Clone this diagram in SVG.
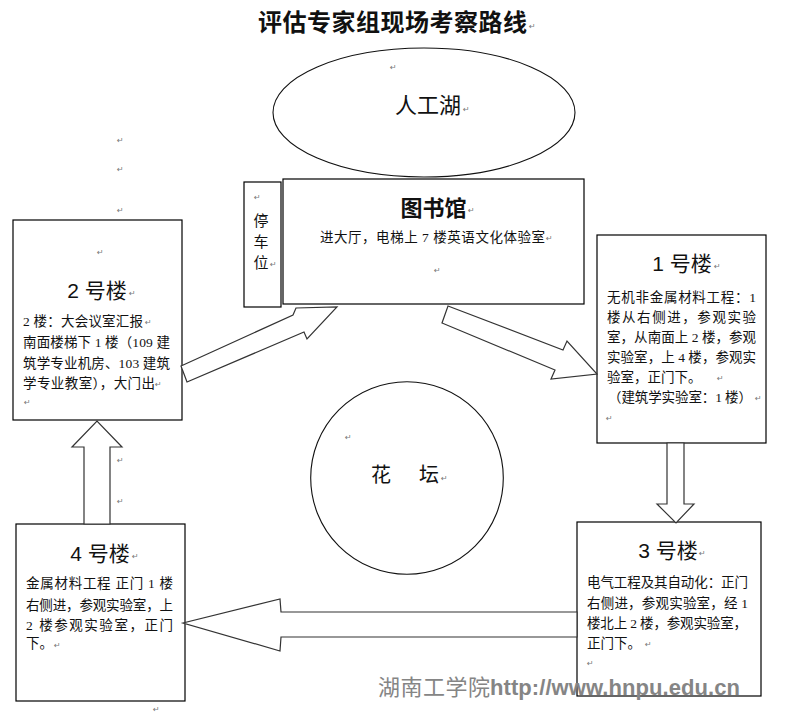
<svg xmlns="http://www.w3.org/2000/svg" width="790" height="717" viewBox="0 0 790 717">
<style>
.box{fill:#fff;stroke:#000;stroke-width:1.2}
.shape{fill:none;stroke:#111;stroke-width:1.1}
.arrow{fill:#fff;stroke:#333;stroke-width:1.2;stroke-linejoin:miter}
.ttl{font-family:"Noto Sans CJK SC",sans-serif;font-size:24px;font-weight:700;fill:#111}
.hd{font-family:"Liberation Sans","Noto Sans CJK SC",sans-serif;font-size:21px;fill:#111}
.bd{font-family:"Liberation Serif","Noto Sans CJK SC",serif;font-size:13.5px;fill:#111}
.pm{font-family:"DejaVu Sans",sans-serif;font-size:8px;fill:#777}
.wmc{font-family:"Noto Sans CJK SC",sans-serif;font-size:22px;fill:#858585}
.wml{font-family:"Liberation Sans",sans-serif;font-size:22px;font-weight:700;fill:#858585}
</style>
<rect width="790" height="717" fill="#fff"/>

<g id="title">
<text class="ttl" x="258" y="31" textLength="269">评估专家组现场考察路线</text>
<text class="pm" x="529" y="29">↵</text>
</g>

<g id="marks">
<text class="pm" x="117" y="143">↵</text>
<text class="pm" x="117" y="172">↵</text>
<text class="pm" x="117" y="213">↵</text>
<text class="pm" x="117" y="463">↵</text>
<text class="pm" x="117" y="504">↵</text>
<text class="pm" x="153" y="712">↵</text>
</g>

<g id="lake">
<ellipse class="shape" cx="424" cy="112.5" rx="151" ry="64.5"/>
<text class="pm" x="390" y="70">↵</text>
<text class="hd" x="395" y="113" style="font-size:22px">人工湖</text>
<text class="pm" x="463" y="112">↵</text>
</g>

<g id="parking">
<rect class="box" x="244" y="182" width="37" height="125"/>
<text class="pm" x="254" y="200">↵</text>
<text class="hd" x="261" y="226" style="font-size:15px" text-anchor="middle">停</text>
<text class="hd" x="261" y="247" style="font-size:15px" text-anchor="middle">车</text>
<text class="hd" x="261" y="268" style="font-size:15px" text-anchor="middle">位</text>
<text class="pm" x="270" y="267">↵</text>
</g>

<g id="library">
<rect class="box" x="283" y="179" width="301" height="125"/>
<text class="hd" x="433.5" y="216" style="font-size:22px;font-weight:700" text-anchor="middle">图书馆</text>
<text class="pm" x="468" y="213">↵</text>
<text class="bd" x="320" y="242" textLength="225">进大厅，电梯上 7 楼英语文化体验室</text>
<text class="pm" x="546" y="241">↵</text>
<text class="pm" x="434" y="273">↵</text>
</g>

<g id="building2">
<rect class="box" x="13" y="220" width="169" height="200"/>
<text class="pm" x="97" y="255">↵</text>
<text class="hd" x="97" y="298" text-anchor="middle">2 号楼</text>
<text class="pm" x="129" y="296">↵</text>
<text class="bd" x="23" y="326" textLength="120">2 楼：大会议室汇报</text>
<text class="pm" x="145" y="325">↵</text>
<text class="bd" x="23" y="347" textLength="147">南面楼梯下 1 楼（109 建</text>
<text class="bd" x="23" y="368" textLength="147">筑学专业机房、103 建筑</text>
<text class="bd" x="23" y="388" textLength="132">学专业教室），大门出</text>
<text class="pm" x="155" y="387">↵</text>
<text class="pm" x="24" y="405">↵</text>
</g>

<g id="building1">
<rect class="box" x="597" y="235" width="169" height="208"/>
<text class="hd" x="682" y="271" text-anchor="middle">1 号楼</text>
<text class="pm" x="714" y="269">↵</text>
<text class="bd" x="607" y="302" textLength="149">无机非金属材料工程：1</text>
<text class="bd" x="607" y="322" textLength="149">楼从右侧进，参观实验</text>
<text class="bd" x="607" y="342" textLength="149">室，从南面上 2 楼，参观</text>
<text class="bd" x="607" y="362" textLength="149">实验室，上 4 楼，参观实</text>
<text class="bd" x="607" y="382">验室，正门下。</text>
<text class="pm" x="717" y="381">↵</text>
<text class="bd" x="608" y="402" textLength="144">（建筑学实验室：1 楼）</text>
<text class="pm" x="755" y="401">↵</text>
<text class="pm" x="606" y="421">↵</text>
</g>

<g id="garden">
<circle class="shape" cx="407" cy="478" r="96.3"/>
<text class="pm" x="345" y="440">↵</text>
<text class="hd" x="371" y="482" style="font-size:20px">花</text>
<text class="hd" x="419" y="482" style="font-size:20px">坛</text>
<text class="pm" x="441" y="481">↵</text>
</g>

<g id="building3">
<rect class="box" x="577" y="522" width="184" height="174"/>
<text class="hd" x="668" y="558" text-anchor="middle">3 号楼</text>
<text class="pm" x="699" y="556">↵</text>
<text class="bd" x="587" y="587" textLength="161">电气工程及其自动化：正门</text>
<text class="bd" x="587" y="608" textLength="161">右侧进，参观实验室，经 1</text>
<text class="bd" x="587" y="628" textLength="160">楼北上 2 楼，参观实验室，</text>
<text class="bd" x="587" y="648">正门下。</text>
<text class="pm" x="645" y="647">↵</text>
<text class="pm" x="587" y="666">↵</text>
</g>

<g id="building4">
<rect class="box" x="16" y="524" width="169" height="177"/>
<text class="hd" x="100" y="561" text-anchor="middle">4 号楼</text>
<text class="pm" x="132" y="559">↵</text>
<text class="bd" x="26" y="588" textLength="147">金属材料工程 正门 1 楼</text>
<text class="bd" x="26" y="610" textLength="147">右侧进，参观实验室，上</text>
<text class="bd" x="26" y="630" textLength="147">2  楼参观实验室，正门</text>
<text class="bd" x="26" y="648">下。</text>
<text class="pm" x="54" y="648">↵</text>
</g>

<g id="connectors">
<polygon class="arrow" points="181,366 293,315 296,308 337,307 307,339 304,332 187,382"/>
<polygon class="arrow" points="448,306 563,350 567,341 597,374 551,379 555,370 442,323"/>
<polygon class="arrow" points="667,443 684,443 684,504 694,504 676,523 657,504 667,504"/>
<polygon class="arrow" points="577,612 281,612 280,599 183,623 280,651 281,637 577,637"/>
<polygon class="arrow" points="84,524 84,447 72,447 97,421 122,447 110,447 110,524"/>
</g>

<g id="watermark">
<text class="wmc" x="378" y="695" textLength="112">湖南工学院</text>
<text class="wml" x="490" y="695" textLength="250">http://www.hnpu.edu.cn</text>
</g>
</svg>
